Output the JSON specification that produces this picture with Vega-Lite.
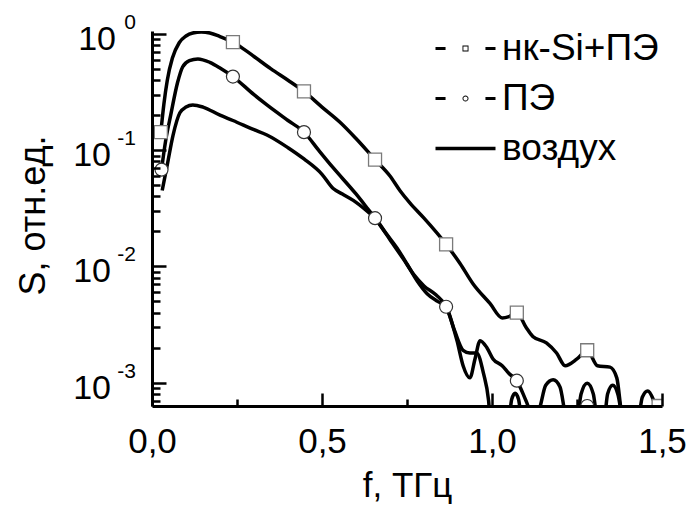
{
  "$schema": "https://vega.github.io/schema/vega-lite/v6.json",
  "width": 510,
  "height": 375,
  "autosize": "none",
  "padding": {"left": 152, "top": 31, "right": 27, "bottom": 100},
  "background": "white",
  "config": {
    "font": "Liberation Sans",
    "view": {"stroke": null},
    "axis": {"grid": false}
  },
  "datasets": {
    "curves": [
      {"s": "нк-Si+ПЭ", "f": 0.026, "v": 0.143},
      {"s": "нк-Si+ПЭ", "f": 0.035, "v": 0.25},
      {"s": "нк-Si+ПЭ", "f": 0.045, "v": 0.40},
      {"s": "нк-Si+ПЭ", "f": 0.06, "v": 0.62},
      {"s": "нк-Si+ПЭ", "f": 0.08, "v": 0.84},
      {"s": "нк-Si+ПЭ", "f": 0.1, "v": 0.96},
      {"s": "нк-Si+ПЭ", "f": 0.12, "v": 1.02},
      {"s": "нк-Si+ПЭ", "f": 0.145, "v": 1.04},
      {"s": "нк-Si+ПЭ", "f": 0.17, "v": 1.02},
      {"s": "нк-Si+ПЭ", "f": 0.2, "v": 0.95},
      {"s": "нк-Si+ПЭ", "f": 0.238, "v": 0.85},
      {"s": "нк-Si+ПЭ", "f": 0.27, "v": 0.74},
      {"s": "нк-Si+ПЭ", "f": 0.3, "v": 0.64},
      {"s": "нк-Si+ПЭ", "f": 0.35, "v": 0.50},
      {"s": "нк-Si+ПЭ", "f": 0.4, "v": 0.40},
      {"s": "нк-Si+ПЭ", "f": 0.447, "v": 0.32},
      {"s": "нк-Si+ПЭ", "f": 0.5, "v": 0.235},
      {"s": "нк-Si+ПЭ", "f": 0.553, "v": 0.174},
      {"s": "нк-Si+ПЭ", "f": 0.6, "v": 0.126},
      {"s": "нк-Si+ПЭ", "f": 0.656, "v": 0.083},
      {"s": "нк-Si+ПЭ", "f": 0.7, "v": 0.06},
      {"s": "нк-Si+ПЭ", "f": 0.729, "v": 0.045},
      {"s": "нк-Si+ПЭ", "f": 0.759, "v": 0.035},
      {"s": "нк-Si+ПЭ", "f": 0.8, "v": 0.026},
      {"s": "нк-Si+ПЭ", "f": 0.865, "v": 0.0155},
      {"s": "нк-Si+ПЭ", "f": 0.906, "v": 0.0106},
      {"s": "нк-Si+ПЭ", "f": 0.944, "v": 0.0071},
      {"s": "нк-Si+ПЭ", "f": 0.994, "v": 0.0048},
      {"s": "нк-Si+ПЭ", "f": 1.03, "v": 0.0036},
      {"s": "нк-Si+ПЭ", "f": 1.05, "v": 0.0037},
      {"s": "нк-Si+ПЭ", "f": 1.073, "v": 0.004},
      {"s": "нк-Si+ПЭ", "f": 1.1, "v": 0.003},
      {"s": "нк-Si+ПЭ", "f": 1.12, "v": 0.0025},
      {"s": "нк-Si+ПЭ", "f": 1.16, "v": 0.0022},
      {"s": "нк-Si+ПЭ", "f": 1.19, "v": 0.0018},
      {"s": "нк-Si+ПЭ", "f": 1.215, "v": 0.0014},
      {"s": "нк-Si+ПЭ", "f": 1.25, "v": 0.0016},
      {"s": "нк-Si+ПЭ", "f": 1.28, "v": 0.0019},
      {"s": "нк-Si+ПЭ", "f": 1.31, "v": 0.0014},
      {"s": "нк-Si+ПЭ", "f": 1.347, "v": 0.00136},
      {"s": "нк-Si+ПЭ", "f": 1.367, "v": 0.0011},
      {"s": "нк-Si+ПЭ", "f": 1.385, "v": 0.0005},
      {"s": "нк-Si+ПЭ", "f": 1.43, "v": 0.0005},
      {"s": "нк-Si+ПЭ", "f": 1.442, "v": 0.00075},
      {"s": "нк-Si+ПЭ", "f": 1.458, "v": 0.00085},
      {"s": "нк-Si+ПЭ", "f": 1.474, "v": 0.00072},
      {"s": "нк-Si+ПЭ", "f": 1.49, "v": 0.0005},
      {"s": "ПЭ", "f": 0.028, "v": 0.068},
      {"s": "ПЭ", "f": 0.04, "v": 0.12},
      {"s": "ПЭ", "f": 0.055, "v": 0.2},
      {"s": "ПЭ", "f": 0.075, "v": 0.38},
      {"s": "ПЭ", "f": 0.09, "v": 0.52},
      {"s": "ПЭ", "f": 0.11, "v": 0.59},
      {"s": "ПЭ", "f": 0.135, "v": 0.61},
      {"s": "ПЭ", "f": 0.17, "v": 0.57},
      {"s": "ПЭ", "f": 0.2, "v": 0.51},
      {"s": "ПЭ", "f": 0.238, "v": 0.43},
      {"s": "ПЭ", "f": 0.3, "v": 0.3},
      {"s": "ПЭ", "f": 0.338, "v": 0.245},
      {"s": "ПЭ", "f": 0.4, "v": 0.18},
      {"s": "ПЭ", "f": 0.447, "v": 0.143},
      {"s": "ПЭ", "f": 0.49, "v": 0.1},
      {"s": "ПЭ", "f": 0.532, "v": 0.071},
      {"s": "ПЭ", "f": 0.6, "v": 0.042},
      {"s": "ПЭ", "f": 0.632, "v": 0.032},
      {"s": "ПЭ", "f": 0.656, "v": 0.026},
      {"s": "ПЭ", "f": 0.7, "v": 0.017},
      {"s": "ПЭ", "f": 0.74, "v": 0.0115},
      {"s": "ПЭ", "f": 0.77, "v": 0.0085},
      {"s": "ПЭ", "f": 0.8, "v": 0.0068},
      {"s": "ПЭ", "f": 0.835, "v": 0.0057},
      {"s": "ПЭ", "f": 0.865, "v": 0.0045},
      {"s": "ПЭ", "f": 0.897, "v": 0.0023},
      {"s": "ПЭ", "f": 0.915, "v": 0.0014},
      {"s": "ПЭ", "f": 0.935, "v": 0.0011},
      {"s": "ПЭ", "f": 0.95, "v": 0.0016},
      {"s": "ПЭ", "f": 0.965, "v": 0.0023},
      {"s": "ПЭ", "f": 0.985, "v": 0.002},
      {"s": "ПЭ", "f": 1.003, "v": 0.0016},
      {"s": "ПЭ", "f": 1.03, "v": 0.0014},
      {"s": "ПЭ", "f": 1.05, "v": 0.0012},
      {"s": "ПЭ", "f": 1.073, "v": 0.00104},
      {"s": "ПЭ", "f": 1.1, "v": 0.0007},
      {"s": "ПЭ", "f": 1.125, "v": 0.00048},
      {"s": "ПЭ", "f": 1.14, "v": 0.0006},
      {"s": "ПЭ", "f": 1.158, "v": 0.00095},
      {"s": "ПЭ", "f": 1.18, "v": 0.00106},
      {"s": "ПЭ", "f": 1.2, "v": 0.00092},
      {"s": "ПЭ", "f": 1.22, "v": 0.0005},
      {"s": "ПЭ", "f": 1.28, "v": 0.0005},
      {"s": "воздух", "f": 0.03, "v": 0.045},
      {"s": "воздух", "f": 0.045, "v": 0.075},
      {"s": "воздух", "f": 0.062, "v": 0.135},
      {"s": "воздух", "f": 0.082, "v": 0.21},
      {"s": "воздух", "f": 0.1, "v": 0.235},
      {"s": "воздух", "f": 0.12, "v": 0.245},
      {"s": "воздух", "f": 0.15, "v": 0.235},
      {"s": "воздух", "f": 0.2, "v": 0.2},
      {"s": "воздух", "f": 0.238, "v": 0.18},
      {"s": "воздух", "f": 0.3, "v": 0.15},
      {"s": "воздух", "f": 0.338, "v": 0.135},
      {"s": "воздух", "f": 0.4, "v": 0.105},
      {"s": "воздух", "f": 0.447, "v": 0.084},
      {"s": "воздух", "f": 0.5, "v": 0.062},
      {"s": "воздух", "f": 0.532, "v": 0.047},
      {"s": "воздух", "f": 0.56, "v": 0.042},
      {"s": "воздух", "f": 0.592, "v": 0.037},
      {"s": "воздух", "f": 0.632, "v": 0.03},
      {"s": "воздух", "f": 0.656, "v": 0.026},
      {"s": "воздух", "f": 0.69, "v": 0.019},
      {"s": "воздух", "f": 0.72, "v": 0.0145},
      {"s": "воздух", "f": 0.75, "v": 0.0105},
      {"s": "воздух", "f": 0.78, "v": 0.0075},
      {"s": "воздух", "f": 0.81, "v": 0.0058},
      {"s": "воздух", "f": 0.84, "v": 0.005},
      {"s": "воздух", "f": 0.865, "v": 0.0045},
      {"s": "воздух", "f": 0.89, "v": 0.0028},
      {"s": "воздух", "f": 0.915, "v": 0.0019},
      {"s": "воздух", "f": 0.935, "v": 0.0018},
      {"s": "воздух", "f": 0.955, "v": 0.0018},
      {"s": "воздух", "f": 0.975, "v": 0.0012},
      {"s": "воздух", "f": 0.99, "v": 0.0007},
      {"s": "воздух", "f": 1.0, "v": 0.0003},
      {"s": "воздух", "f": 1.05, "v": 0.0005},
      {"s": "воздух", "f": 1.058, "v": 0.00072},
      {"s": "воздух", "f": 1.068, "v": 0.00081},
      {"s": "воздух", "f": 1.078, "v": 0.00072},
      {"s": "воздух", "f": 1.088, "v": 0.0005},
      {"s": "воздух", "f": 1.25, "v": 0.0005},
      {"s": "воздух", "f": 1.262, "v": 0.0008},
      {"s": "воздух", "f": 1.28, "v": 0.00099},
      {"s": "воздух", "f": 1.298, "v": 0.0008},
      {"s": "воздух", "f": 1.31, "v": 0.0005},
      {"s": "воздух", "f": 1.33, "v": 0.0005},
      {"s": "воздух", "f": 1.34, "v": 0.0008},
      {"s": "воздух", "f": 1.355, "v": 0.00095},
      {"s": "воздух", "f": 1.37, "v": 0.0008},
      {"s": "воздух", "f": 1.382, "v": 0.0005}
    ],
    "markers": [
      {"s": "нк-Si+ПЭ", "f": 0.026, "v": 0.143},
      {"s": "нк-Si+ПЭ", "f": 0.238, "v": 0.85},
      {"s": "нк-Si+ПЭ", "f": 0.447, "v": 0.32},
      {"s": "нк-Si+ПЭ", "f": 0.656, "v": 0.083},
      {"s": "нк-Si+ПЭ", "f": 0.865, "v": 0.0155},
      {"s": "нк-Si+ПЭ", "f": 1.073, "v": 0.004},
      {"s": "нк-Si+ПЭ", "f": 1.28, "v": 0.0019},
      {"s": "нк-Si+ПЭ", "f": 1.49, "v": 0.00063},
      {"s": "ПЭ", "f": 0.028, "v": 0.068},
      {"s": "ПЭ", "f": 0.238, "v": 0.43},
      {"s": "ПЭ", "f": 0.447, "v": 0.143},
      {"s": "ПЭ", "f": 0.656, "v": 0.026},
      {"s": "ПЭ", "f": 0.865, "v": 0.0045},
      {"s": "ПЭ", "f": 1.073, "v": 0.00104},
      {"s": "ПЭ", "f": 1.28, "v": 0.00063},
      {"s": "воздух", "f": 0.5, "v": 0.06}
    ],
    "ylab": [
      {"v": 1, "e": "0"},
      {"v": 0.1, "e": "-1"},
      {"v": 0.01, "e": "-2"},
      {"v": 0.001, "e": "-3"}
    ]
  },
  "resolve": {"axis": {"x": "independent", "y": "independent"}},
  "layer": [
    {
      "data": {"name": "curves"},
      "mark": {"type": "line", "color": "black", "strokeWidth": 3.5, "interpolate": "monotone", "clip": true},
      "encoding": {
        "x": {"field": "f", "type": "quantitative",
          "scale": {"domain": [0, 1.5], "nice": false, "zero": false},
          "axis": {"orient": "bottom", "values": [0, 0.5, 1, 1.5],
            "labelExpr": "replace(format(datum.value, '.1f'), '.', ',')",
            "tickSize": -13, "tickWidth": 2.5, "tickColor": "black",
            "domainColor": "black", "domainWidth": 3,
            "labelFontSize": 35, "labelColor": "black", "labelPadding": 31,
            "labelFlush": false, "labelOverlap": false,
            "title": "f, ТГц", "titleFontSize": 35, "titleFontWeight": "normal",
            "titleColor": "black", "titlePadding": 9, "zindex": 1}},
        "y": {"field": "v", "type": "quantitative",
          "scale": {"type": "log", "domain": [0.00063, 1.06], "nice": false},
          "axis": {"orient": "left", "values": [0.001, 0.01, 0.1, 1],
            "tickSize": -14, "tickWidth": 2.5, "tickColor": "black",
            "domainColor": "black", "domainWidth": 3, "labels": false,
            "title": "S, отн.ед.", "titleFontSize": 36, "titleFontWeight": "normal",
            "titleColor": "black", "titleAngle": 270, "titleBaseline": "alphabetic",
            "titleX": -108, "titleY": 184, "zindex": 1}},
        "detail": {"field": "s"}
      }
    },
    {
      "data": {"name": "markers"},
      "transform": [{"filter": "datum.s == 'нк-Si+ПЭ'"}],
      "mark": {"type": "point", "shape": "square", "size": 169, "filled": true, "fill": "white", "stroke": "#7a7a7a", "strokeWidth": 1.3, "opacity": 1, "clip": true},
      "encoding": {
        "x": {"field": "f", "type": "quantitative",
          "axis": {"orient": "bottom", "values": [0.25, 0.75, 1.25], "tickSize": -7, "tickWidth": 2.5, "tickColor": "black", "labels": false, "domain": false, "title": null, "zindex": 1}},
        "y": {"field": "v", "type": "quantitative",
          "axis": {"orient": "left", "values": [0.0007, 0.0008, 0.0009, 0.002, 0.003, 0.004, 0.005, 0.006, 0.007, 0.008, 0.009, 0.02, 0.03, 0.04, 0.05, 0.06, 0.07, 0.08, 0.09, 0.2, 0.3, 0.4, 0.5, 0.6, 0.7, 0.8, 0.9],
            "tickSize": -8, "tickWidth": 2.5, "tickColor": "black", "labels": false, "domain": false, "title": null, "zindex": 1}}
      }
    },
    {
      "data": {"name": "markers"},
      "transform": [{"filter": "datum.s == 'ПЭ'"}],
      "mark": {"type": "point", "shape": "circle", "size": 169, "filled": true, "fill": "white", "stroke": "#333333", "strokeWidth": 1.2, "opacity": 1, "clip": true},
      "encoding": {
        "x": {"field": "f", "type": "quantitative", "axis": null},
        "y": {"field": "v", "type": "quantitative", "axis": null}
      }
    },
    {
      "data": {"name": "markers"},
      "mark": {"type": "point", "filled": true, "color": "black", "opacity": 0, "clip": true},
      "encoding": {
        "x": {"field": "f", "type": "quantitative", "axis": null},
        "y": {"field": "v", "type": "quantitative", "axis": null},
        "shape": {"field": "s", "type": "nominal",
          "scale": {"domain": ["нк-Si+ПЭ", "ПЭ", "воздух"],
            "range": [
              "M-2,-0.1H-1.33V0.1H-2Z M1.33,-0.1H2V0.1H1.33Z M-0.2,-0.2H0.2V0.2H-0.2Z M-0.14,-0.14V0.14H0.14V-0.14Z",
              "M-2,-0.1H-1.33V0.1H-2Z M1.33,-0.1H2V0.1H1.33Z M-0.2,0A0.2,0.2 0 1,0 0.2,0A0.2,0.2 0 1,0 -0.2,0Z M-0.14,0A0.14,0.14 0 1,1 0.14,0A0.14,0.14 0 1,1 -0.14,0Z",
              "M-2,-0.12H2V0.12H-2Z"
            ]},
          "legend": {"title": null, "orient": "none", "legendX": 295, "legendY": -1,
            "symbolSize": 900, "symbolFillColor": "black", "symbolStrokeColor": "black", "symbolStrokeWidth": 0,
            "labelFontSize": 37, "labelColor": "black", "labelFont": "Liberation Sans",
            "labelOffset": 18, "rowPadding": 12, "padding": 0,
            "encode": {"symbols": {"update": {"opacity": {"value": 1}, "fill": {"value": "black"}, "fillOpacity": {"value": 1}, "stroke": {"value": "black"}, "strokeWidth": {"value": 0}}}}}
        }
      }
    },
    {
      "data": {"name": "ylab"},
      "transform": [{"filter": "datum.v == 1"}],
      "mark": {"type": "text", "align": "right", "baseline": "alphabetic", "dx": -36, "dy": 16, "fontSize": 34, "color": "black"},
      "encoding": {
        "x": {"datum": 0, "type": "quantitative", "axis": null},
        "y": {"field": "v", "type": "quantitative", "axis": null},
        "text": {"value": "10"}
      }
    },
    {
      "data": {"name": "ylab"},
      "transform": [{"filter": "datum.v < 1"}],
      "mark": {"type": "text", "align": "right", "baseline": "alphabetic", "dx": -41, "dy": 16, "fontSize": 34, "color": "black"},
      "encoding": {
        "x": {"datum": 0, "type": "quantitative", "axis": null},
        "y": {"field": "v", "type": "quantitative", "axis": null},
        "text": {"value": "10"}
      }
    },
    {
      "data": {"name": "ylab"},
      "mark": {"type": "text", "align": "right", "baseline": "alphabetic", "dx": -16, "dy": -5, "fontSize": 21, "color": "black"},
      "encoding": {
        "x": {"datum": 0, "type": "quantitative", "axis": null},
        "y": {"field": "v", "type": "quantitative", "axis": null},
        "text": {"field": "e"}
      }
    }
  ]
}
